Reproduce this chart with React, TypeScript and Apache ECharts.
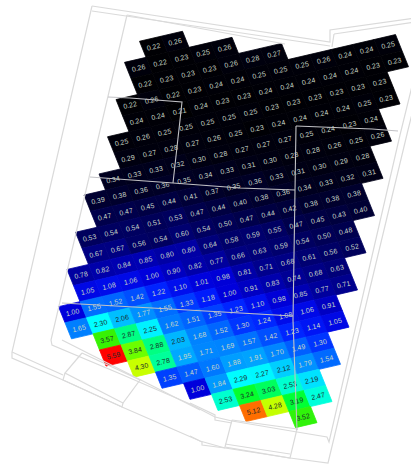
import React, { useEffect, useRef } from "react";
import * as echarts from "echarts";

const rowStartColumns = [1, 0, 0, -1, -1, -2, -2, -3, -4, -4, -5, -5, -6, -6, -7, -7, -6, -6, -5, -4, -3, -2, -1, 1];
const rowValues: number[][] = [
  [0.22, 0.26],
  [0.26, 0.22, 0.23, 0.25, 0.26],
  [0.22, 0.23, 0.23, 0.23, 0.26, 0.28, 0.27],
  [0.22, 0.26, 0.22, 0.23, 0.24, 0.24, 0.25, 0.25, 0.25, 0.26, 0.24, 0.24, 0.25],
  [0.24, 0.24, 0.21, 0.24, 0.23, 0.23, 0.24, 0.24, 0.24, 0.24, 0.24, 0.23, 0.23],
  [0.25, 0.26, 0.25, 0.25, 0.25, 0.25, 0.25, 0.23, 0.23, 0.23, 0.23, 0.23, 0.23],
  [0.29, 0.27, 0.28, 0.27, 0.26, 0.25, 0.23, 0.24, 0.24, 0.24, 0.24, 0.25, 0.23],
  [0.34, 0.33, 0.33, 0.32, 0.30, 0.28, 0.27, 0.27, 0.27, 0.25, 0.24, 0.23, 0.24],
  [0.39, 0.38, 0.36, 0.36, 0.35, 0.34, 0.33, 0.31, 0.30, 0.28, 0.28, 0.26, 0.25, 0.26],
  [0.47, 0.47, 0.45, 0.44, 0.41, 0.37, 0.35, 0.36, 0.33, 0.31, 0.30, 0.29, 0.28],
  [0.53, 0.54, 0.54, 0.51, 0.53, 0.47, 0.44, 0.40, 0.38, 0.36, 0.34, 0.33, 0.32, 0.31],
  [0.67, 0.67, 0.56, 0.54, 0.60, 0.54, 0.50, 0.47, 0.44, 0.42, 0.38, 0.38, 0.38],
  [0.78, 0.82, 0.84, 0.85, 0.80, 0.80, 0.64, 0.58, 0.59, 0.55, 0.47, 0.45, 0.43, 0.40],
  [1.05, 1.08, 1.06, 1.00, 0.90, 0.82, 0.77, 0.66, 0.63, 0.59, 0.54, 0.50, 0.48],
  [1.00, 1.55, 1.52, 1.42, 1.22, 1.10, 1.01, 0.98, 0.81, 0.71, 0.68, 0.61, 0.56, 0.52],
  [1.65, 2.30, 2.06, 1.77, 1.55, 1.33, 1.18, 1.00, 0.91, 0.83, 0.74, 0.68, 0.63],
  [3.57, 2.87, 2.25, 1.62, 1.51, 1.35, 1.23, 1.10, 0.98, 0.85, 0.77, 0.71],
  [5.59, 3.84, 2.88, 2.03, 1.68, 1.52, 1.30, 1.24, 1.08, 1.06, 0.91],
  [4.30, 2.78, 1.95, 1.71, 1.69, 1.57, 1.42, 1.23, 1.14, 1.05],
  [1.35, 1.47, 1.60, 1.88, 1.91, 1.70, 1.49, 1.30],
  [1.00, 1.84, 2.29, 2.27, 2.12, 1.79, 1.54],
  [2.53, 3.24, 3.03, 2.53, 2.19],
  [5.12, 4.28, 3.19, 2.47],
  [3.52],
];

const colourStops: [number, number[]][] = [
  [0.2, [0, 0, 0]],
  [0.3, [0, 0, 18]],
  [0.5, [0, 0, 85]],
  [0.8, [0, 0, 165]],
  [1.0, [0, 0, 220]],
  [1.2, [0, 30, 255]],
  [1.6, [0, 120, 255]],
  [2.0, [0, 175, 255]],
  [2.3, [0, 255, 255]],
  [2.8, [0, 255, 150]],
  [3.2, [0, 255, 50]],
  [3.6, [60, 240, 0]],
  [3.85, [110, 255, 0]],
  [4.3, [200, 255, 0]],
  [5.12, [255, 110, 0]],
  [5.6, [255, 0, 0]],
];

const outlineLines: number[][][] = [
  [[92, 6], [12, 352], [12, 358], [63, 380], [122, 407], [200, 441], [225, 448], [290, 458], [328, 463], [408, 130], [423, 70]],
  [[92, 6], [330, 42], [330, 30], [415, 18]],
  [[92, 11], [330, 46]],
  [[127, 15], [285, 44]],
  [[127, 15], [51, 340], [52, 345], [123, 375], [190, 404], [215, 417], [232, 421], [297, 432], [327, 437], [329, 442], [400, 135], [416, 70]],
  [[334, 34], [415, 22]],
  [[334, 34], [332, 47]],
  [[62, 340], [200, 410]],
  [[82, 353], [140, 380], [123, 403], [65, 373], [82, 353]],
  [[65, 373], [63, 380], [122, 407], [123, 403]],
  [[232, 420], [225, 447], [290, 458], [297, 429], [232, 420]],
  [[225, 444], [290, 454]],
  [[12, 352], [63, 375]],
  [[190, 436], [202, 442], [202, 445], [225, 448]],
  [[190, 403], [215, 415], [215, 420], [232, 423]],
];

const wallLines: number[][][] = [
  [[130, 98], [182, 102], [173, 183]],
  [[108, 97], [130, 98]],
  [[90, 177], [173, 183], [240, 188], [295, 190]],
  [[296, 126], [293, 320], [297, 430]],
  [[296, 126], [372, 129], [398, 131]],
  [[62, 303], [170, 309], [293, 316]],
];

const DARK_TEXT_FROM = 2;
const U = [21.5, -5];
const V = [6.5, 16.1];
const ORIGIN = [132, 51.8];
const UNIT = 16;

function colourOf(v: number) {
  for (let i = 1; i < colourStops.length; i++) {
    const [b, cb] = colourStops[i];
    const [a, ca] = colourStops[i - 1];
    if (v <= b) {
      const t = Math.max(0, (v - a) / (b - a));
      const c = ca.map((x, k) => Math.round(x + (cb[k] - x) * t));
      return `rgb(${c[0]},${c[1]},${c[2]})`;
    }
  }
  return "rgb(255,0,0)";
}

const cells: number[][] = [];
rowValues.forEach((row, r) => row.forEach((v, i) => cells.push([rowStartColumns[r] + i, r, v])));

function polyLine(points: number[][], stroke: string, width: number, z: number) {
  return {
    type: "polyline",
    silent: true,
    z,
    shape: { points },
    style: { stroke, lineWidth: width, fill: "none" },
  };
}

export default function App() {
  const ref = useRef<HTMLDivElement>(null);
  useEffect(() => {
    const chart = echarts.init(ref.current!, undefined, { renderer: "svg" });
    chart.setOption({
      animation: false,
      backgroundColor: "#ffffff",
      grid: { left: 0, top: 0, width: 25 * UNIT, height: 25 * UNIT },
      xAxis: { type: "value", min: -10, max: 15, show: false },
      yAxis: { type: "value", min: 0, max: 25, inverse: true, show: false },
      series: [
        {
          type: "custom",
          clip: false,
          data: cells,
          renderItem: (_p: any, api: any) => {
            const c = api.value(0);
            const r = api.value(1);
            const v = api.value(2);
            const zero = api.coord([0, 0]);
            const project = (cc: number, rr: number) => {
              const p = api.coord([cc, rr]);
              const a = (p[0] - zero[0]) / UNIT;
              const b = (p[1] - zero[1]) / UNIT;
              return [ORIGIN[0] + a * U[0] + b * V[0], ORIGIN[1] + a * U[1] + b * V[1]];
            };
            const d = 0.5;
            const centre = project(c, r);
            return {
              type: "group",
              children: [
                {
                  type: "polygon",
                  shape: {
                    points: [
                      project(c - d, r - d),
                      project(c + d, r - d),
                      project(c + d, r + d),
                      project(c - d, r + d),
                    ],
                  },
                  style: { fill: colourOf(v), stroke: colourOf(v), lineWidth: 0.8 },
                },
                {
                  type: "text",
                  x: centre[0],
                  y: centre[1],
                  rotation: Math.atan2(5, 21.5),
                  z2: 5,
                  style: {
                    text: v.toFixed(2),
                    fill: v >= DARK_TEXT_FROM ? "#1a2a2a" : "#c9d6c6",
                    font: '7px "Liberation Sans"',
                    align: "center",
                    verticalAlign: "middle",
                  },
                },
              ],
            };
          },
        },
      ],
      graphic: [
        ...outlineLines.map((p) => polyLine(p, "#dadada", 1.2, 10)),
        ...wallLines.map((p) => polyLine(p, "#c2c2c6", 1.1, 11)),
        {
          type: "group",
          x: 176,
          y: 260,
          rotation: Math.atan2(5, 21.5),
          z: 12,
          children: [
            {
              type: "rect",
              shape: { x: -21, y: -8.5, width: 42, height: 17 },
              style: { fill: "#a6a6cc" },
            },
            {
              type: "text",
              style: {
                text: "KDL",
                x: 0,
                y: 0,
                fill: "#2a2a35",
                font: '15px "Liberation Sans"',
                align: "center",
                verticalAlign: "middle",
              },
            },
          ],
        },
      ],
    });
    return () => chart.dispose();
  }, []);
  return <div ref={ref} style={{ position: "fixed", left: 0, top: 0, width: 411, height: 467 }} />;
}
